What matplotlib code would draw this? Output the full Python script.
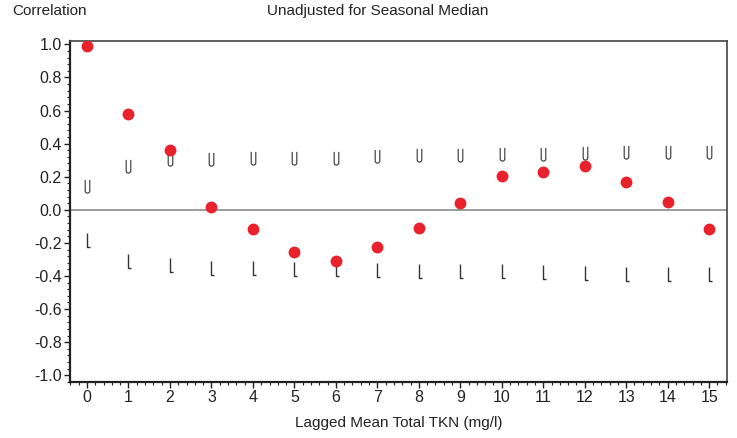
import numpy as np
import matplotlib
matplotlib.use("Agg")
import matplotlib.pyplot as plt
from matplotlib.path import Path
from matplotlib.ticker import MultipleLocator, FormatStrFormatter

plt.rcParams['font.family'] = ['Liberation Sans', 'DejaVu Sans']

lags = list(range(16))
corr = [0.99, 0.58, 0.36, 0.016, -0.116, -0.255, -0.31, -0.225, -0.108,
        0.042, 0.203, 0.231, 0.267, 0.169, 0.046, -0.118]
upper = [0.146, 0.267, 0.307, 0.31, 0.313, 0.313, 0.313, 0.327, 0.33,
         0.33, 0.335, 0.337, 0.343, 0.347, 0.347, 0.347]
lower = [-0.185, -0.31, -0.335, -0.35, -0.35, -0.355, -0.357, -0.365, -0.372,
         -0.372, -0.372, -0.376, -0.38, -0.386, -0.39, -0.39]

# U and L shaped markers for the confidence limits
r = 0.35
t = np.linspace(np.pi, 2 * np.pi, 12)
u_verts = [(-r, 1.0)] + [(r * np.cos(a), -1.0 + r + r * np.sin(a)) for a in t] + [(r, 1.0)]
u_codes = [Path.MOVETO] + [Path.LINETO] * (len(u_verts) - 1)
u_marker = Path(u_verts, u_codes)
l_marker = Path([(0, 1.0), (0, -1.0), (0.5, -1.0)], [Path.MOVETO, Path.LINETO, Path.LINETO])

fig = plt.figure(figsize=(7.37, 4.38), dpi=100)
ax = fig.add_axes([0.095, 0.128, 0.8914, 0.7784])

ax.axhline(0, color="#8c8c8c", lw=1.2, zorder=1)
ax.plot(lags, upper, ls="none", marker=u_marker, ms=9.5, mfc="none", mec="#333333", mew=0.8, zorder=2)
ax.plot(lags, lower, ls="none", marker=l_marker, ms=9.5, mfc="none", mec="#333333", mew=1.0, zorder=2)
ax.plot(lags, corr, ls="none", marker="o", ms=7.5, color="#e8212b", zorder=3)

ax.set_xlim(-0.41, 15.43)
ax.set_ylim(-1.04, 1.02)
ax.set_xticks(lags)
ax.xaxis.set_minor_locator(MultipleLocator(0.2))
ax.yaxis.set_major_locator(MultipleLocator(0.2))
ax.yaxis.set_minor_locator(MultipleLocator(0.04))
ax.yaxis.set_major_formatter(FormatStrFormatter("%.1f"))

for s in ["left", "bottom"]:
    ax.spines[s].set_linewidth(1.6)
    ax.spines[s].set_color("#222222")
for s in ["top", "right"]:
    ax.spines[s].set_linewidth(1.2)
    ax.spines[s].set_color("#444444")

ax.tick_params(which="major", length=4, width=1.0, color="#222222", labelsize=11.5, labelcolor="#222222", pad=2)
ax.tick_params(which="minor", length=2.5, width=0.8, color="#222222")

ax.set_xlabel("Lagged Mean Total TKN (mg/l)", fontsize=11, color="#222222", labelpad=8)
fig.text(0.016, 0.974, "Correlation", fontsize=11, color="#222222", va="center", ha="left")
fig.text(0.512, 0.976, "Unadjusted for Seasonal Median", fontsize=11, color="#222222", va="center", ha="center")

fig.savefig("out.png", dpi=100)
